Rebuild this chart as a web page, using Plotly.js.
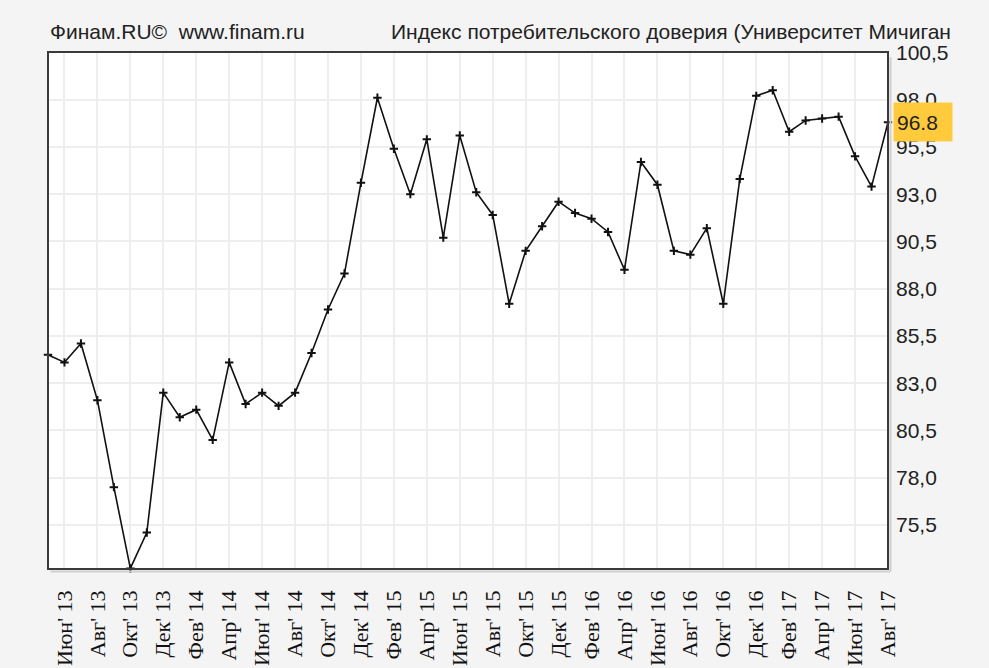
<!DOCTYPE html>
<html>
<head>
<meta charset="utf-8">
<script src="https://cdn.plot.ly/plotly-3.0.1.min.js"></script>
<style>
    body { margin: 0; background: #f4f4f4; }
    #graph { width: 989px; height: 668px; }
</style>
</head>
<body>
<div id="graph"></div>
<script>
// months, May 2013 .. Aug 2017
const months = [
    "Май' 13", "Июн' 13", "Июл' 13", "Авг' 13", "Сен' 13", "Окт' 13", "Ноя' 13", "Дек' 13",
    "Янв' 14", "Фев' 14", "Мар' 14", "Апр' 14", "Май' 14", "Июн' 14", "Июл' 14", "Авг' 14", "Сен' 14", "Окт' 14", "Ноя' 14", "Дек' 14",
    "Янв' 15", "Фев' 15", "Мар' 15", "Апр' 15", "Май' 15", "Июн' 15", "Июл' 15", "Авг' 15", "Сен' 15", "Окт' 15", "Ноя' 15", "Дек' 15",
    "Янв' 16", "Фев' 16", "Мар' 16", "Апр' 16", "Май' 16", "Июн' 16", "Июл' 16", "Авг' 16", "Сен' 16", "Окт' 16", "Ноя' 16", "Дек' 16",
    "Янв' 17", "Фев' 17", "Мар' 17", "Апр' 17", "Май' 17", "Июн' 17", "Июл' 17", "Авг' 17"
];

const sentiment = [
    84.5, 84.1, 85.1, 82.1, 77.5, 73.2, 75.1, 82.5,
    81.2, 81.6, 80.0, 84.1, 81.9, 82.5, 81.8, 82.5, 84.6, 86.9, 88.8, 93.6,
    98.1, 95.4, 93.0, 95.9, 90.7, 96.1, 93.1, 91.9, 87.2, 90.0, 91.3, 92.6,
    92.0, 91.7, 91.0, 89.0, 94.7, 93.5, 90.0, 89.8, 91.2, 87.2, 93.8, 98.2,
    98.5, 96.3, 96.9, 97.0, 97.1, 95.0, 93.4, 96.8
];

// labels every second month, starting with Июн' 13
const tickMonths = months.filter((m, i) => i % 2 === 1);
const yTicks = [75.5, 78.0, 80.5, 83.0, 85.5, 88.0, 90.5, 93.0, 95.5, 98.0, 100.5];
const yTickText = yTicks.map(v => v.toFixed(1).replace('.', ','));

const lastValue = sentiment[sentiment.length - 1];

let trace = {
    x: months,
    y: sentiment,
    type: 'scatter',
    mode: 'lines+markers',
    line: { color: '#111111', width: 1.6 },
    marker: { symbol: 'cross-thin-open', size: 6, color: '#111111', line: { color: '#111111', width: 2 } },
    cliponaxis: false,
    hoverinfo: 'x+y'
};

let layout = {
    width: 989,
    height: 668,
    margin: { l: 48, r: 101, t: 52, b: 99 },
    paper_bgcolor: '#f4f4f4',
    plot_bgcolor: '#ffffff',
    showlegend: false,
    xaxis: {
        type: 'category',
        categoryorder: 'array',
        categoryarray: months,
        range: [0, months.length - 1],
        tickvals: tickMonths,
        ticktext: tickMonths,
        tickangle: -90,
        ticks: '',
        ticklabelstandoff: 16,
        tickfont: { family: 'Liberation Serif', size: 22, color: '#111111' },
        showgrid: true,
        gridcolor: '#eeeeee',
        gridwidth: 1.5,
        showline: false,
        zeroline: false,
        fixedrange: true
    },
    yaxis: {
        side: 'right',
        range: [73.17, 100.52],
        tickvals: yTicks,
        ticktext: yTickText,
        ticks: '',
        ticklabelstandoff: 7,
        tickfont: { family: 'Liberation Sans', size: 21, color: '#222222' },
        showgrid: true,
        gridcolor: '#eeeeee',
        gridwidth: 1.5,
        showline: false,
        zeroline: false,
        fixedrange: true
    },
    shapes: [
        // shadow
        { type: 'line', xref: 'paper', yref: 'paper', x0: 1.003, x1: 1.003, y0: -0.005, y1: 0.99, line: { color: '#cfcfcf', width: 2 } },
        { type: 'line', xref: 'paper', yref: 'paper', x0: 0.003, x1: 1.003, y0: -0.005, y1: -0.005, line: { color: '#cfcfcf', width: 2 } },
        // frame
        { type: 'rect', xref: 'paper', yref: 'paper', x0: 0, x1: 1, y0: 0, y1: 1, line: { color: '#3a3a3a', width: 2 }, layer: 'above' }
    ],
    annotations: [
        {
            xref: 'paper', yref: 'paper', x: 0, y: 1,
            xanchor: 'left', yanchor: 'middle', yshift: 21,
            text: 'Финам.RU©  www.finam.ru',
            showarrow: false,
            font: { family: 'Liberation Sans', size: 21, color: '#222222' }
        },
        {
            xref: 'paper', yref: 'paper', x: (389 - 48) / 840, y: 1,
            xanchor: 'left', yanchor: 'middle', yshift: 21,
            text: 'Индекс потребительского доверия (Университет Мичиган',
            showarrow: false,
            font: { family: 'Liberation Sans', size: 21, color: '#222222' }
        },
        {
            xref: 'paper', yref: 'y', x: 1, y: lastValue,
            xanchor: 'left', yanchor: 'middle', xshift: 5,
            text: lastValue.toFixed(1),
            showarrow: false,
            bgcolor: '#ffcb3d',
            width: 52, height: 32, align: 'left', borderpad: 3,
            font: { family: 'Liberation Sans', size: 21, color: '#222222' }
        }
    ]
};

var config = { displayModeBar: false, responsive: false };
Plotly.newPlot('graph', [trace], layout, config);
</script>
</body>
</html>
